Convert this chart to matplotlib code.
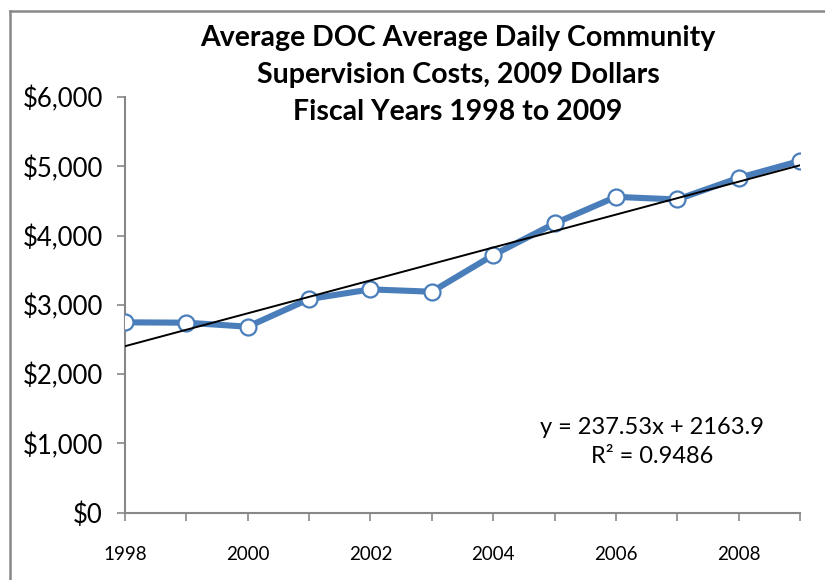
import matplotlib
matplotlib.use("Agg")
import matplotlib.pyplot as plt
from matplotlib.lines import Line2D
import numpy as np

years = [1998, 1999, 2000, 2001, 2002, 2003, 2004, 2005, 2006, 2007, 2008, 2009]
costs = [2746, 2741, 2683, 3082, 3222, 3188, 3717, 4174, 4558, 4520, 4832, 5077]
trend_slope = 237.53
trend_intercept = 2163.9
r_squared = 0.9486
x_tick_labels = ["1998", "", "2000", "", "2002", "", "2004", "", "2006", "", "2008", ""]
y_ticks = [0, 1000, 2000, 3000, 4000, 5000, 6000]

plt.rcParams['font.family'] = ['Lato', 'DejaVu Sans']

W, H = 825, 580
fig = plt.figure(figsize=(W / 100, H / 100), dpi=100)
ax = fig.add_axes([125 / W, 1 - 512.5 / H, (800 - 125) / W, (512.5 - 97) / H])

idx = np.arange(1, len(years) + 1)
ax.plot(idx, costs, color='#4A7EBB', lw=4.4, solid_joinstyle='round', zorder=3,
        marker='o', markersize=11.5, markerfacecolor='white',
        markeredgecolor='#4A7EBB', markeredgewidth=1.6)
trend = [trend_slope * i + trend_intercept for i in (idx[0], idx[-1])]
ax.plot([idx[0], idx[-1]], trend, color='black', lw=1.4, zorder=4)

ax.set_xlim(1, len(years))
ax.set_ylim(0, 6000)
ax.set_xticks(idx)
ax.set_xticklabels(x_tick_labels, fontsize=13.5)
ax.set_yticks(y_ticks)
ax.set_yticklabels(['${:,.0f}'.format(v) for v in y_ticks], fontsize=18.5)
for s in ['top', 'right']:
    ax.spines[s].set_visible(False)
for s in ['left', 'bottom']:
    ax.spines[s].set_color('#888888')
    ax.spines[s].set_linewidth(1.5)
ax.tick_params(axis='y', direction='out', length=6, width=1.2, color='#888888', pad=10)
ax.tick_params(axis='x', direction='out', length=6, width=1.2, color='#888888', pad=18)
for lab in ax.get_xticklabels():
    lab.set_clip_on(False)
ax.patch.set_alpha(0)

fig.text(458 / W, 1 - 75 / H,
         "Average DOC Average Daily Community\nSupervision Costs, 2009 Dollars\nFiscal Years 1998 to 2009",
         ha='center', va='center', fontsize=20.5, fontweight='bold', linespacing=1.52)

fig.text(652 / W, 1 - 442 / H,
         "y = {:.2f}x + {:.1f}\nR² = {:.4f}".format(trend_slope, trend_intercept, r_squared),
         ha='center', va='center', fontsize=17, linespacing=1.45)

fig.add_artist(Line2D([9.5 / W, 9.5 / W], [0, 1 - 10.5 / H], transform=fig.transFigure,
                      color='#888888', lw=1.8))
fig.add_artist(Line2D([9.5 / W, 1], [1 - 10.5 / H, 1 - 10.5 / H], transform=fig.transFigure,
                      color='#888888', lw=1.8))

fig.savefig("out.png", dpi=100)
